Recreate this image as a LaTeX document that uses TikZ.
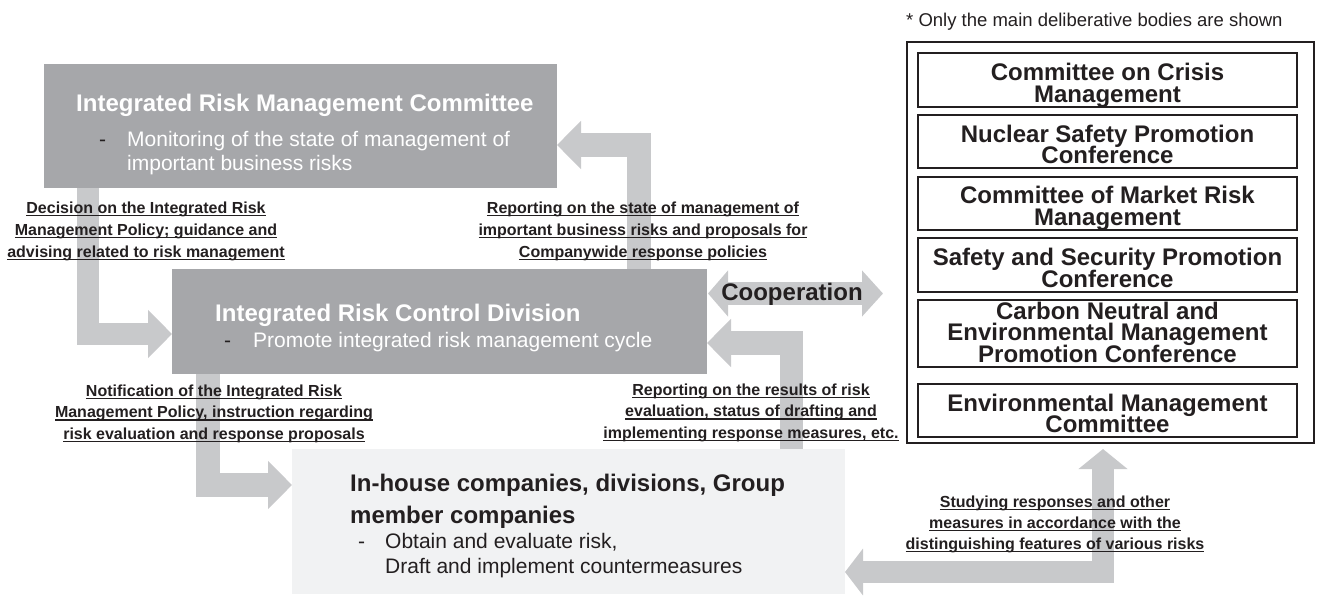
\documentclass[tikz,border=0pt]{standalone}
\usepackage{fontspec}
\setmainfont{Liberation Sans}
\usetikzlibrary{arrows.meta,calc}

\definecolor{boxgrey}{HTML}{A6A7AA}
\definecolor{arrowgrey}{HTML}{C8C9CB}
\definecolor{paleback}{HTML}{F1F2F3}
\definecolor{ink}{HTML}{231F20}

% underlined text with a rule at a fixed depth below the baseline
\newcommand\uln[1]{\setbox0\hbox{#1}\rlap{\rule[-3.2pt]{\wd0}{1.4pt}}\box0}
% centred block of lines, baseline = first line, fixed line pitch
\newcommand\cblock[2]{\vtop{\baselineskip=#1\lineskiplimit=-100pt\lineskip=0pt\halign{\hfil##\hfil\cr#2\crcr}}}
% left-aligned block of lines
\newcommand\lblock[2]{\vtop{\baselineskip=#1\lineskiplimit=-100pt\lineskip=0pt\halign{##\hfil\cr#2\crcr}}}

\tikzset{
  darkbox/.style={fill=boxgrey, draw=none, inner sep=0pt, outer sep=0pt, anchor=north west},
  palebox/.style={fill=paleback, draw=none, inner sep=0pt, outer sep=0pt, anchor=north west},
  inbox/.style={draw=ink, line width=1.2pt, fill=white, inner sep=0pt, outer sep=0pt,
                minimum width=379pt},
  title/.style={font=\fontsize{24}{28}\selectfont\bfseries, inner sep=0pt, anchor=base west},
  body/.style={font=\fontsize{21}{25}\selectfont, inner sep=0pt, anchor=base west},
  dashmark/.style={font=\fontsize{21}{25}\selectfont, text=ink, inner sep=0pt, anchor=base west},
  lab/.style={font=\fontsize{16}{22}\selectfont\bfseries, text=ink, inner sep=0pt, anchor=base},
  paneltext/.style={font=\fontsize{24}{22}\selectfont\bfseries, text=ink, inner sep=0pt, anchor=base},
  bigarrow/.style={draw=arrowgrey, line join=miter, -{Triangle[length=24pt,width=47pt]}},
}

\begin{document}
\begin{tikzpicture}[x=1pt, y=-1pt]
\useasboundingbox (0,0) rectangle (1318,595);

% ---------- main boxes ----------
\node[darkbox, minimum width=513pt, minimum height=124pt] (irmc) at (44,64) {};
\node[darkbox, minimum width=535pt, minimum height=105pt] (ircd) at (172,269) {};
\node[palebox, minimum width=553pt, minimum height=145pt] (grp) at (292,449) {};

% ---------- deliberative bodies panel ----------
\node[draw=ink, line width=2.5pt, inner sep=0pt, outer sep=0pt, anchor=north west,
      minimum width=407pt, minimum height=401pt] (panel) at (907,42) {};
\node[inbox, minimum height=54pt] (c1) at (1107.5,80) {};
\node[inbox, minimum height=53pt] (c2) at (1107.5,141.5) {};
\node[inbox, minimum height=53pt] (c3) at (1107.5,203.5) {};
\node[inbox, minimum height=54pt] (c4) at (1107.5,265) {};
\node[inbox, minimum height=67pt] (c5) at (1107.5,333.5) {};
\node[inbox, minimum height=53pt] (c6) at (1107.5,410.5) {};

\node[paneltext] (c1t) at (1107.5,80) {\cblock{22pt}{Committee on Crisis\cr Management}};
\node[paneltext] (c2t) at (1107.5,142) {\cblock{21.5pt}{Nuclear Safety Promotion\cr Conference}};
\node[paneltext] (c3t) at (1107.5,203) {\cblock{22pt}{Committee of Market Risk\cr Management}};
\node[paneltext] (c4t) at (1107.5,265) {\cblock{22pt}{Safety and Security Promotion\cr Conference}};
\node[paneltext] (c5t) at (1107.5,319) {\cblock{21.5pt}{Carbon Neutral and\cr Environmental Management\cr Promotion Conference}};
\node[paneltext] (c6t) at (1107.5,411) {\cblock{21.5pt}{Environmental Management\cr Committee}};

\node[font=\fontsize{18.5}{22}\selectfont, text=ink, inner sep=0pt, anchor=base west]
  (note) at (906,26) {* Only the main deliberative bodies are shown};

% ---------- block arrows ----------
% committee -> control division
\draw[bigarrow, line width=22pt] ($(irmc.south west)+(44,0)$) |- ($(ircd.north west)+(0,65)$);
% control division -> committee
\draw[bigarrow, line width=24pt] ($(ircd.north west)+(467,0)$) |- ($(irmc.north east)+(0,81)$);
% control division -> companies
\draw[bigarrow, line width=24pt] ($(ircd.south west)+(36,0)$) |- ($(grp.north west)+(0,36)$);
% companies -> control division
\draw[bigarrow, line width=23.5pt] ($(grp.north west)+(499.5,0)$) |- ($(ircd.north east)+(0,74)$);
% cooperation
\coordinate (coopR) at (883,293.5);
\draw[draw=arrowgrey, line width=23pt,
      {Triangle[length=20pt,width=45pt]}-{Triangle[length=21pt,width=45pt]}]
  ($(ircd.north east)+(1,24.5)$) -- (coopR);
% companies <-> deliberative bodies
\draw[draw=arrowgrey, line width=22pt, line join=miter,
      {Triangle[length=18pt,width=46pt]}-{Triangle[length=20pt,width=48pt]}]
  ($(grp.north east)+(0,123)$) -| ($(panel.south west)+(196,6)$);

% ---------- box texts ----------
\node[title, text=white] (irmcT) at (76,111) {Integrated Risk Management Committee};
\node[dashmark] (irmcD) at (99,146) {-};
\node[body, text=white] (irmcB1) at (127,146) {Monitoring of the state of management of};
\node[body, text=white] (irmcB2) at (127,170) {important business risks};

\node[title, text=white] (ircdT) at (215,321) {Integrated Risk Control Division};
\node[dashmark] (ircdD) at (224,347) {-};
\node[body, text=white] (ircdB) at (253,347) {Promote integrated risk management cycle};

\node[title, text=ink] (grpT1) at (350,491) {In-house companies, divisions, Group};
\node[title, text=ink] (grpT2) at (350,523) {member companies};
\node[dashmark] (grpD) at (358,548) {-};
\node[body, text=ink] (grpB1) at (385,548) {Obtain and evaluate risk,};
\node[body, text=ink] (grpB2) at (385,573) {Draft and implement countermeasures};

\node[font=\fontsize{24}{28}\selectfont\bfseries, text=ink, inner sep=0pt, anchor=base]
  (coop) at (792,300) {Cooperation};

% ---------- arrow labels ----------
\node[lab] (labA) at (146,213) {\cblock{22pt}{\uln{Decision on the Integrated Risk}\cr
  \uln{Management Policy; guidance and}\cr \uln{advising related to risk management}}};
\node[lab] (labD) at (643,213) {\cblock{22pt}{\uln{Reporting on the state of management of}\cr
  \uln{important business risks and proposals for}\cr \uln{Companywide response policies}}};
\node[lab] (labB) at (214,396) {\cblock{21.5pt}{\uln{Notification of the Integrated Risk}\cr
  \uln{Management Policy, instruction regarding}\cr \uln{risk evaluation and response proposals}}};
\node[lab] (labC) at (751,395) {\cblock{21.5pt}{\uln{Reporting on the results of risk}\cr
  \uln{evaluation, status of drafting and}\cr \uln{implementing response measures, etc.}}};
\node[lab] (labE) at (1055,507) {\cblock{21pt}{\uln{Studying responses and other}\cr
  \uln{measures in accordance with the}\cr \uln{distinguishing features of various risks}}};
\end{tikzpicture}
\end{document}
